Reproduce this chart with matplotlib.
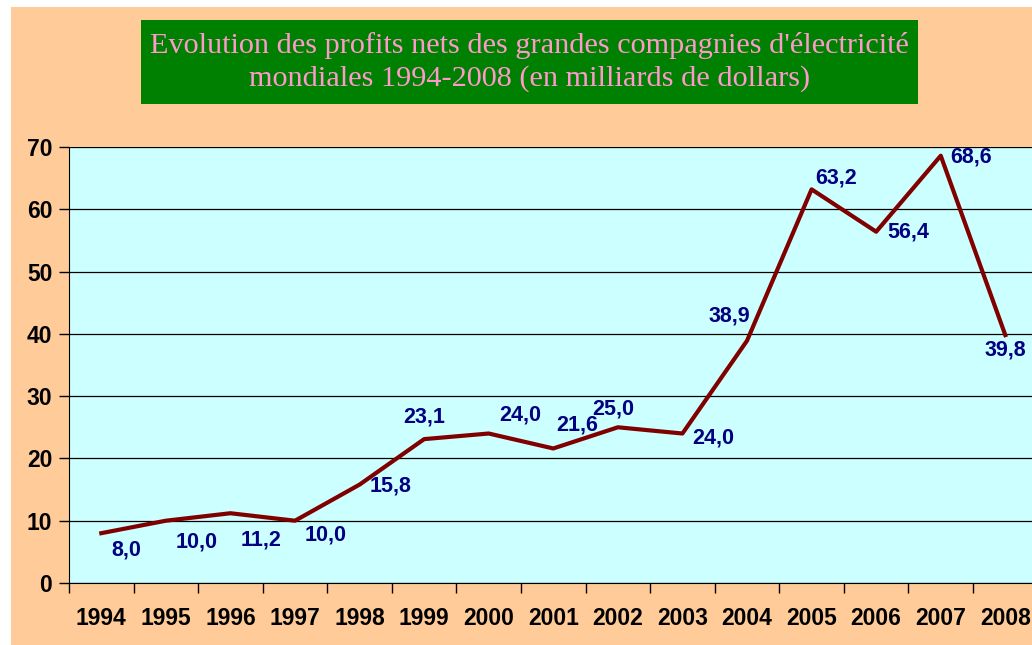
import matplotlib.pyplot as plt
from matplotlib.patches import Rectangle

# data
years = ["1994", "1995", "1996", "1997", "1998", "1999", "2000", "2001",
         "2002", "2003", "2004", "2005", "2006", "2007", "2008"]
profits = [8.0, 10.0, 11.2, 10.0, 15.8, 23.1, 24.0, 21.6,
           25.0, 24.0, 38.9, 63.2, 56.4, 68.6, 39.8]
labels = ["8,0", "10,0", "11,2", "10,0", "15,8", "23,1", "24,0", "21,6",
          "25,0", "24,0", "38,9", "63,2", "56,4", "68,6", "39,8"]
# label offsets in points (dx, dy), picked by eye
offsets = [(18, -12), (22, -15), (22, -19), (22, -10), (22, -1), (0, 16),
           (23, 13), (17, 17), (-3, 13), (22, -3), (-13, 18), (18, 8),
           (23, 0), (22, -1), (0, -11)]

W, H = 1032, 645
fig = plt.figure(figsize=(W / 100, H / 100), dpi=100, facecolor="white")

# orange background panel
fig.patches.append(Rectangle((11 / W, 0), 1, 1 - 7 / H, transform=fig.transFigure,
                             facecolor="#FFCC99", edgecolor="none", zorder=-3))
# green title box
fig.patches.append(Rectangle((141 / W, 1 - 104 / H), (918 - 141) / W, 84 / H,
                             transform=fig.transFigure, facecolor="#008000",
                             edgecolor="none", zorder=-2))
fig.text((141 + 918) / 2 / W, 1 - 62 / H,
         "Evolution des profits nets des grandes compagnies d'électricité\n"
         "mondiales 1994-2008 (en milliards de dollars)",
         ha="center", va="center", color="#FF99CC", fontsize=21.8,
         family="Liberation Serif", linespacing=1.32, zorder=2)

left, right, top, bottom = 69, 1037.6, 147, 583
ax = fig.add_axes([left / W, 1 - bottom / H, (right - left) / W, (bottom - top) / H])
ax.set_facecolor("#CCFFFF")

x = list(range(len(years)))
ax.plot(x, profits, color="#800000", lw=3, zorder=3, clip_on=False)
for xi, yi, lab, (dx, dy) in zip(x, profits, labels, offsets):
    ax.annotate(lab, (xi, yi), xytext=(dx, dy), textcoords="offset points",
                ha="center", va="center", color="#000080", fontsize=15.5,
                fontweight="bold", family="Liberation Sans", zorder=4)

ax.set_xlim(-0.5, len(years) - 0.5)
ax.set_ylim(0, 70)
ax.set_yticks(range(0, 71, 10))
ax.set_yticklabels([str(v) for v in range(0, 71, 10)])
ax.yaxis.grid(True, color="black", lw=0.9)
ax.set_axisbelow(True)

ax.set_xticks([i - 0.5 for i in range(len(years) + 1)])
ax.set_xticklabels([])
ax.set_xticks(x, minor=True)
ax.set_xticklabels(years, minor=True)
ax.tick_params(axis="x", which="minor", length=0, pad=17)
ax.tick_params(axis="x", which="major", length=7, width=1, direction="out")
ax.tick_params(axis="y", length=7, width=1, pad=5)
for lab in ax.get_xticklabels(minor=True) + ax.get_yticklabels():
    lab.set_fontsize(16.5)
    lab.set_fontweight("bold")
    lab.set_family("Liberation Sans")

for s in ["top", "right"]:
    ax.spines[s].set_visible(False)
ax.spines["left"].set_color("black")
ax.spines["bottom"].set_color("black")

fig.savefig("out.png", dpi=100, facecolor=fig.get_facecolor())
